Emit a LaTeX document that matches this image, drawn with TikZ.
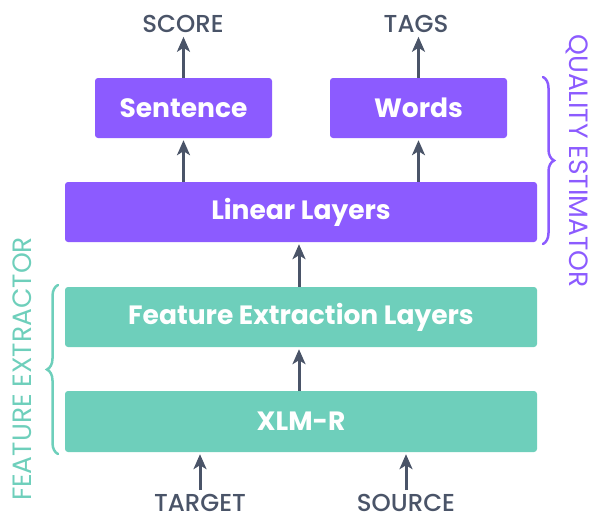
\documentclass[tikz,border=0pt]{standalone}
\usepackage{fontspec}
\setmainfont{Poppins}
\newfontfamily\iofont{Poppins Medium}
\usetikzlibrary{arrows.meta,decorations.pathreplacing}

\definecolor{qepurple}{HTML}{8C5BFF}
\definecolor{feteal}{HTML}{6ECFBB}
\definecolor{flowgray}{HTML}{4A5468}

\tikzset{
  qebox/.style={rectangle,rounded corners=3pt,fill=qepurple,text=white,
    font=\bfseries\fontsize{26.5}{30}\selectfont,minimum height=60pt,inner sep=0pt},
  febox/.style={qebox,fill=feteal},
  io/.style={text=flowgray,font=\iofont\fontsize{24.5}{28}\selectfont,inner sep=0pt,anchor=base},
  flow/.style={-{Stealth[length=15pt,width=13pt,inset=4pt]},line width=3pt,draw=flowgray},
  grplabel/.style={font=\fontsize{26.5}{30}\selectfont,inner sep=0pt},
  grp/.style={decorate,decoration={brace,amplitude=11pt},line width=2.5pt,line cap=round}
}

\begin{document}
\begin{tikzpicture}[x=1pt,y=-1pt]
        \useasboundingbox (0,0) rectangle (590,517);
        % boxes
        \node[qebox,minimum width=177pt] (sent) at (183.5,108) {Sentence};
        \node[qebox,minimum width=177pt] (words) at (418.5,108) {Words};
        \node[qebox,minimum width=472pt] (linear) at (301,212) {Linear Layers};
        \node[febox,minimum width=472pt] (feat) at (301,317) {Feature Extraction Layers};
        \node[febox,minimum width=472pt,minimum height=61pt] (xlmr) at (301,421.5) {XLM-R};
        % inputs and outputs
        \node[io] (score) at (183,32) {SCORE};
        \node[io] (tags) at (416,32) {TAGS};
        \node[io] (target) at (200,511) {TARGET};
        \node[io] (source) at (406,511) {SOURCE};
        \draw[flow] (sent.north) -- ++(0,-41);
        \draw[flow] (words.north) -- ++(0,-41);
        \draw[flow] (linear.north -| sent) -- ([yshift=-2pt]sent.south);
        \draw[flow] (linear.north -| words) -- ([yshift=-2pt]words.south);
        \draw[flow] (feat.north -| 299,0) -- ([yshift=-2pt]linear.south -| 299,0);
        \draw[flow] (xlmr.north -| 299,0) -- ([yshift=-2pt]feat.south -| 299,0);
        \draw[flow] ([yshift=21pt]target.base) -- ([yshift=-2pt]xlmr.south -| target);
        \draw[flow] ([yshift=21pt]source.base) -- ([yshift=-2pt]xlmr.south -| source);
        % groups
        \coordinate (qetop) at (543,77);\coordinate (qebot) at (543,244);
        \coordinate (fetop) at (58,285);\coordinate (febot) at (58,454);
        \draw[grp,qepurple] (qetop) -- (qebot);
        \draw[grp,feteal] (febot) -- (fetop);
        \node[grplabel,text=qepurple,rotate=-90] (qe) at (577,161) {QUALITY ESTIMATOR};
        \node[grplabel,text=feteal,rotate=90] (fe) at (22,369) {FEATURE EXTRACTOR};
    \end{tikzpicture}
\end{document}
